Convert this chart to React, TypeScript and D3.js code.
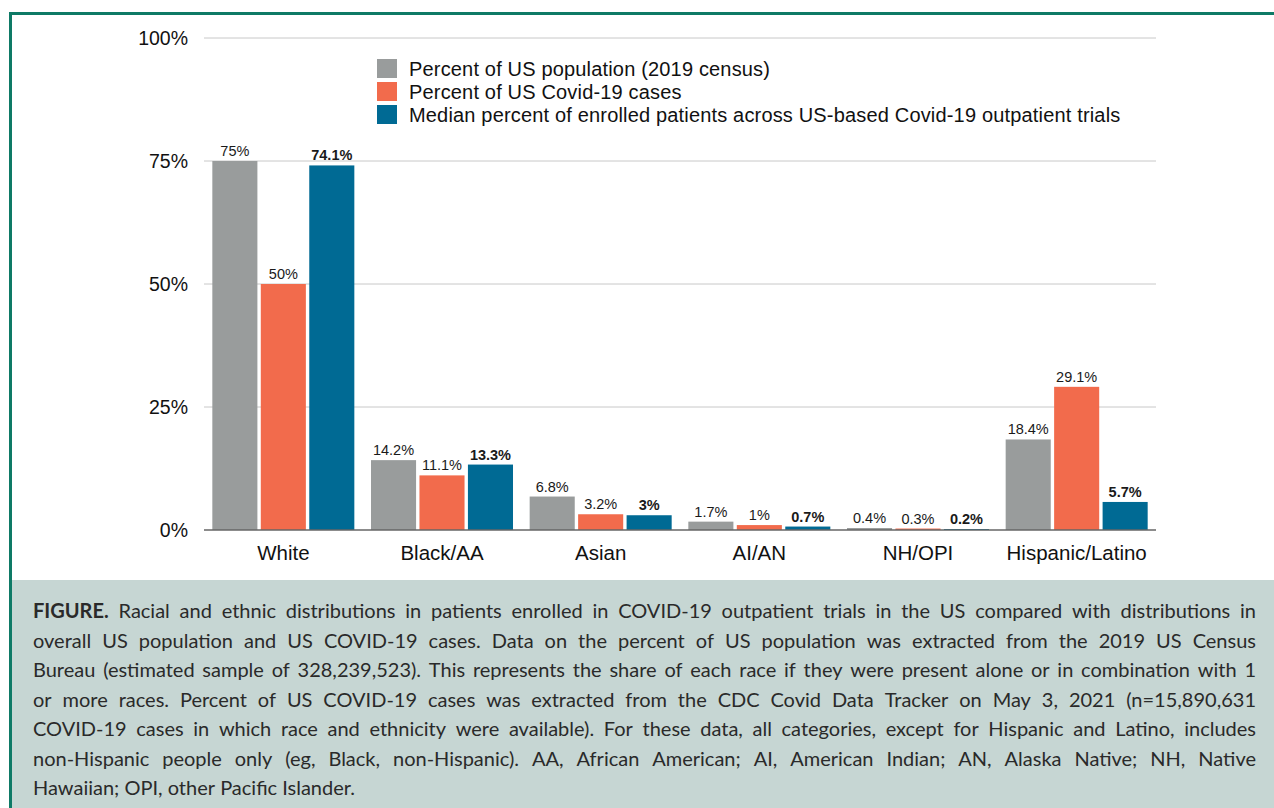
import React, { useMemo } from "react";
import * as d3 from "d3";

const W = 1274;
const H = 808;

const categories = ["White", "Black/AA", "Asian", "AI/AN", "NH/OPI", "Hispanic/Latino"];
const seriesNames = [
  "Percent of US population (2019 census)",
  "Percent of US Covid-19 cases",
  "Median percent of enrolled patients across US-based Covid-19 outpatient trials",
];
const populationPct = [75, 14.2, 6.8, 1.7, 0.4, 18.4];
const casesPct = [50, 11.1, 3.2, 1, 0.3, 29.1];
const trialPct = [74.1, 13.3, 3, 0.7, 0.2, 5.7];
const seriesColors = ["#999c9c", "#f26b4c", "#006a94"];
const yTicks = [0, 25, 50, 75, 100];

const captionLines = [
  "FIGURE. Racial and ethnic distributions in patients enrolled in COVID-19 outpatient trials in the US compared with distributions in",
  "overall US population and US COVID-19 cases. Data on the percent of US population was extracted from the 2019 US Census",
  "Bureau (estimated sample of 328,239,523). This represents the share of each race if they were present alone or in combination with 1",
  "or more races. Percent of US COVID-19 cases was extracted from the CDC Covid Data Tracker on May 3, 2021 (n=15,890,631",
  "COVID-19 cases in which race and ethnicity were available). For these data, all categories, except for Hispanic and Latino, includes",
  "non-Hispanic people only (eg, Black, non-Hispanic). AA, African American; AI, American Indian; AN, Alaska Native; NH, Native",
  "Hawaiian; OPI, other Pacific Islander.",
];

const CHART_FONT = "'Liberation Sans', Arial, Helvetica, sans-serif";
const CAP_FONT = "Lato, 'Open Sans', sans-serif";
const CAP_SIZE = 20;

const margin = { left: 204, right: W - 1156, top: 38, bottom: H - 530 };

export default function App() {
  const series = [populationPct, casesPct, trialPct];

  const x0 = useMemo(
    () =>
      d3
        .scaleBand<string>()
        .domain(categories)
        .range([margin.left, W - margin.right])
        .paddingInner(0.105)
        .paddingOuter(0.0525),
    []
  );
  const x1 = useMemo(
    () =>
      d3
        .scaleBand<number>()
        .domain([0, 1, 2])
        .range([0, x0.bandwidth()])
        .paddingInner(0.07),
    [x0]
  );
  const y = useMemo(
    () => d3.scaleLinear().domain([0, 100]).range([H - margin.bottom, margin.top]),
    []
  );
  const fmt = (v: number) => `${v}%`;

  // justify caption words by measuring them
  const caption = useMemo(() => {
    const ctx = document.createElement("canvas").getContext("2d")!;
    const left = 33;
    const right = 1256;
    return captionLines.map((line, li) => {
      const words = line.split(" ");
      const widths = words.map((w, wi) => {
        ctx.font = `${li === 0 && wi === 0 ? "bold " : ""}${CAP_SIZE}px Lato`;
        return ctx.measureText(w).width;
      });
      ctx.font = `${CAP_SIZE}px Lato`;
      const space = ctx.measureText(" ").width;
      const total = d3.sum(widths);
      const last = li === captionLines.length - 1;
      const gap = last ? space : (right - left - total) / (words.length - 1);
      let cx = left;
      return words.map((w, wi) => {
        const item = { w, x: cx, bold: li === 0 && wi === 0 };
        cx += widths[wi] + gap;
        return item;
      });
    });
  }, []);

  return (
    <div style={{ position: "fixed", left: 0, top: 0 }}>
      <svg width={W} height={H} style={{ display: "block", background: "#fff" }}>
        {/* caption box */}
        <rect x={12} y={580} width={W - 12} height={H - 580} fill="#c6d6d3" />
        {/* frame */}
        <rect x={9} y={12} width={W - 9} height={3} fill="#0e7a66" />
        <rect x={9} y={12} width={3} height={H - 12} fill="#0e7a66" />

        {/* grid + y labels */}
        {yTicks.map((t) => (
          <g key={t}>
            {t > 0 && (
              <line
                x1={margin.left}
                x2={W - margin.right}
                y1={y(t)}
                y2={y(t)}
                stroke="#c8c8c8"
                strokeWidth={1}
              />
            )}
            <text
              x={188}
              y={y(t)}
              dy="0.36em"
              textAnchor="end"
              fontFamily={CHART_FONT}
              fontSize={19.5}
              fill="#111"
            >
              {fmt(t)}
            </text>
          </g>
        ))}

        {/* bars */}
        {categories.map((c, ci) => (
          <g key={c} transform={`translate(${x0(c)},0)`}>
            {series.map((s, si) => (
              <g key={si}>
                <rect
                  x={x1(si)}
                  y={y(s[ci])}
                  width={x1.bandwidth()}
                  height={y(0) - y(s[ci])}
                  fill={seriesColors[si]}
                />
                <text
                  x={(x1(si) ?? 0) + x1.bandwidth() / 2}
                  y={y(s[ci]) - 5}
                  textAnchor="middle"
                  fontFamily={CHART_FONT}
                  fontSize={14.5}
                  fontWeight={si === 2 ? 700 : 400}
                  fill="#1a1a1a"
                >
                  {fmt(s[ci])}
                </text>
              </g>
            ))}
            <text
              x={x0.bandwidth() / 2}
              y={560}
              textAnchor="middle"
              fontFamily={CHART_FONT}
              fontSize={20.5}
              fill="#111"
            >
              {c}
            </text>
          </g>
        ))}

        {/* baseline */}
        <line
          x1={margin.left}
          x2={W - margin.right}
          y1={y(0)}
          y2={y(0)}
          stroke="#666"
          strokeWidth={1.5}
        />

        {/* legend */}
        {seriesNames.map((n, i) => (
          <g key={n} transform={`translate(377,${59 + i * 23})`}>
            <rect width={20} height={19} fill={seriesColors[i]} />
            <text
              x={32}
              y={9.5}
              dy="0.36em"
              fontFamily={CHART_FONT}
              fontSize={20}
              letterSpacing={0.17}
              fill="#111"
            >
              {n}
            </text>
          </g>
        ))}

        {/* caption */}
        {caption.map((words, li) => (
          <g key={li}>
            {words.map((w, wi) => (
              <text
                key={wi}
                x={w.x}
                y={618 + li * 29.5}
                fontFamily={CAP_FONT}
                fontSize={CAP_SIZE}
                fontWeight={w.bold ? 700 : 400}
                fill="#2a2a2a"
              >
                {w.w}
              </text>
            ))}
          </g>
        ))}
      </svg>
    </div>
  );
}
